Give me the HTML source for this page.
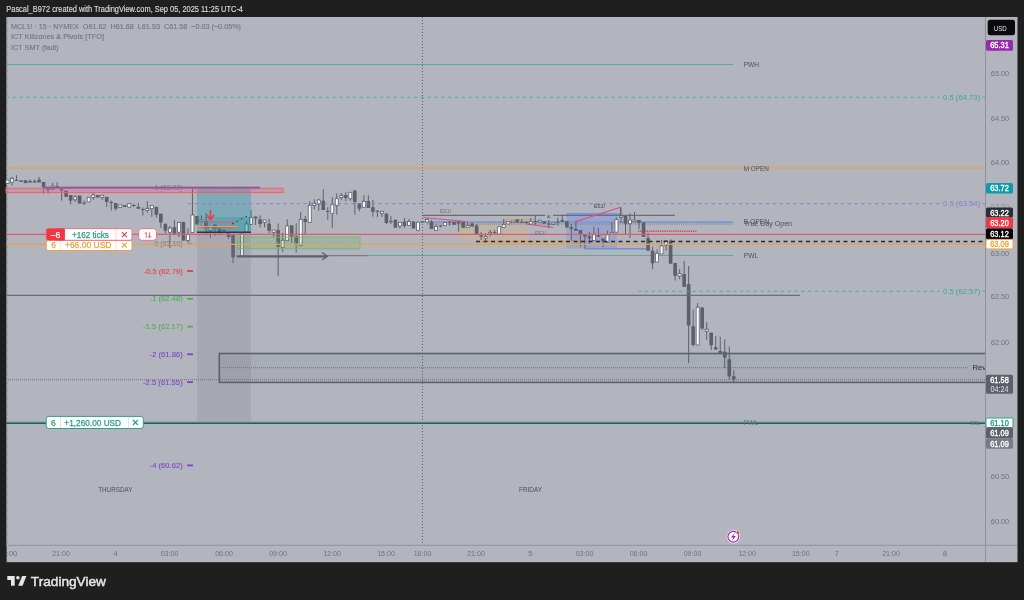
<!DOCTYPE html>
<html><head><meta charset="utf-8"><style>
html,body{margin:0;padding:0;background:#1f1f1f;width:1024px;height:600px;overflow:hidden}
svg{display:block;will-change:transform}
text{font-family:"Liberation Sans", sans-serif}
</style></head><body>
<svg width="1024" height="600" viewBox="0 0 1024 600">
<rect x="0" y="0" width="1024" height="600" fill="#1f1f1f"/>
<text x="6.3" y="12.1" font-size="8.3" fill="#dcdcdc" text-anchor="start" font-weight="normal" textLength="236.7" lengthAdjust="spacingAndGlyphs" stroke="#dcdcdc" stroke-width="0.15">Pascal_B972 created with TradingView.com, Sep 05, 2025 11:25 UTC-4</text>
<rect x="6.6" y="17" width="1010.9" height="545.2" fill="#b2b5be"/>
<line x1="7.4" y1="17" x2="7.4" y2="545" stroke="#c4c6d0" stroke-width="1.4"/><line x1="7.4" y1="17" x2="7.4" y2="545" stroke="#8d9099" stroke-width="1.4" stroke-dasharray="1 1"/>
<line x1="6" y1="64.5" x2="733" y2="64.5" stroke="#5aa89e" stroke-width="1.2"/>
<line x1="368" y1="255.5" x2="733" y2="255.5" stroke="#5aa89e" stroke-width="1.2"/>
<line x1="327" y1="255.7" x2="368" y2="255.7" stroke="#7b7e88" stroke-width="1.2"/>
<rect x="458.2" y="219.3" width="68.6" height="21.2" fill="rgba(230,180,90,0.22)"/>
<rect x="566.3" y="213.3" width="50.7" height="35.3" fill="rgba(60,110,240,0.2)"/>
<line x1="422.5" y1="215.4" x2="545" y2="215.4" stroke="#6b6e78" stroke-width="1.2"/>
<line x1="553" y1="215.4" x2="675" y2="215.4" stroke="#6b6e78" stroke-width="1.2"/>
<line x1="427" y1="222" x2="733" y2="222" stroke="#7f9bdc" stroke-width="2"/>
<line x1="427" y1="223.9" x2="733" y2="223.9" stroke="#858892" stroke-width="1.5" stroke-dasharray="1 1.1"/>
<line x1="476" y1="241.5" x2="583" y2="241.5" stroke="#e8a04a" stroke-width="1.4"/>
<line x1="638" y1="231.3" x2="697" y2="231.3" stroke="#d0a0ac" stroke-width="1.6"/>
<line x1="638" y1="231.3" x2="697" y2="231.3" stroke="#c84a5a" stroke-width="1.6" stroke-dasharray="1.2 1"/>
<line x1="585" y1="248.7" x2="646" y2="248.7" stroke="#6d8fe0" stroke-width="1.6"/>
<line x1="566" y1="214.1" x2="620" y2="214.1" stroke="#6d8fe0" stroke-width="1.6"/>
<line x1="503" y1="219.6" x2="535" y2="219.6" stroke="#e8a04a" stroke-width="1.2"/>
<line x1="422.5" y1="17" x2="422.5" y2="545" stroke="#5d606b" stroke-width="1" stroke-dasharray="1 2"/>
<line x1="423" y1="217.5" x2="466" y2="221.5" stroke="#e0507a" stroke-width="1.2"/>
<line x1="526" y1="224" x2="553" y2="227.5" stroke="#e0507a" stroke-width="1.2"/>
<line x1="575.7" y1="221.6" x2="620.5" y2="207.3" stroke="#e0507a" stroke-width="1.2"/>
<line x1="620.5" y1="207.3" x2="620.5" y2="217" stroke="#6b6e78" stroke-width="1"/>
<text x="182.7" y="190.29999999999998" font-size="8" fill="#7c7f88" text-anchor="end" font-weight="normal" textLength="28.2" lengthAdjust="spacingAndGlyphs" stroke="#7c7f88" stroke-width="0.08">1 (63.72)</text>
<text x="182.7" y="245.79999999999998" font-size="8" fill="#7c7f88" text-anchor="end" font-weight="normal" textLength="28.2" lengthAdjust="spacingAndGlyphs" stroke="#7c7f88" stroke-width="0.08">0 (63.10)</text>
<text x="182.7" y="273.6" font-size="8" fill="#f23645" text-anchor="end" font-weight="normal" textLength="39" lengthAdjust="spacingAndGlyphs" stroke="#f23645" stroke-width="0.08">-0.5 (62.79)</text>
<line x1="187.2" y1="271" x2="193" y2="271" stroke="#f23645" stroke-width="1.8"/>
<text x="182.7" y="301.40000000000003" font-size="8" fill="#4caf50" text-anchor="end" font-weight="normal" textLength="33" lengthAdjust="spacingAndGlyphs" stroke="#4caf50" stroke-width="0.08">-1 (62.48)</text>
<line x1="187.2" y1="298.8" x2="193" y2="298.8" stroke="#4caf50" stroke-width="1.8"/>
<text x="182.7" y="329.20000000000005" font-size="8" fill="#4caf50" text-anchor="end" font-weight="normal" textLength="39.7" lengthAdjust="spacingAndGlyphs" stroke="#4caf50" stroke-width="0.08">-1.5 (62.17)</text>
<line x1="187.2" y1="326.6" x2="193" y2="326.6" stroke="#4caf50" stroke-width="1.8"/>
<text x="182.7" y="356.90000000000003" font-size="8" fill="#7e40c8" text-anchor="end" font-weight="normal" textLength="33" lengthAdjust="spacingAndGlyphs" stroke="#7e40c8" stroke-width="0.08">-2 (61.86)</text>
<line x1="187.2" y1="354.3" x2="193" y2="354.3" stroke="#7e40c8" stroke-width="1.8"/>
<text x="182.7" y="384.70000000000005" font-size="8" fill="#7e40c8" text-anchor="end" font-weight="normal" textLength="39.7" lengthAdjust="spacingAndGlyphs" stroke="#7e40c8" stroke-width="0.08">-2.5 (61.55)</text>
<line x1="187.2" y1="382.1" x2="193" y2="382.1" stroke="#7e40c8" stroke-width="1.8"/>
<text x="182.7" y="468.0" font-size="8" fill="#7e40c8" text-anchor="end" font-weight="normal" textLength="33" lengthAdjust="spacingAndGlyphs" stroke="#7e40c8" stroke-width="0.08">-4 (60.62)</text>
<line x1="187.2" y1="465.4" x2="193" y2="465.4" stroke="#7e40c8" stroke-width="1.8"/>
<line x1="188" y1="243.2" x2="192" y2="243.2" stroke="#7c7f88" stroke-width="1"/>
<line x1="7.49" y1="180.0" x2="7.49" y2="184.0" stroke="#5d606b" stroke-width="1"/>
<rect x="5.99" y="180.0" width="3.0" height="3.50" fill="#ffffff" stroke="#5d606b" stroke-width="0.8"/>
<line x1="12.00" y1="177.0" x2="12.00" y2="185.6" stroke="#5d606b" stroke-width="1"/>
<rect x="10.50" y="178.5" width="3.0" height="3.75" fill="#ffffff" stroke="#5d606b" stroke-width="0.8"/>
<line x1="16.51" y1="175.25" x2="16.51" y2="181.0" stroke="#5d606b" stroke-width="1"/>
<rect x="14.71" y="180.0" width="3.6" height="1.00" fill="#5d606b"/>
<line x1="21.02" y1="180.4" x2="21.02" y2="181.9" stroke="#5d606b" stroke-width="1"/>
<rect x="19.22" y="180.4" width="3.6" height="1.50" fill="#5d606b"/>
<line x1="25.53" y1="180.25" x2="25.53" y2="183.1" stroke="#5d606b" stroke-width="1"/>
<rect x="23.73" y="180.25" width="3.6" height="2.85" fill="#5d606b"/>
<line x1="30.04" y1="179.5" x2="30.04" y2="182.5" stroke="#5d606b" stroke-width="1"/>
<rect x="28.24" y="181.0" width="3.6" height="1.50" fill="#5d606b"/>
<line x1="34.55" y1="179.5" x2="34.55" y2="182.5" stroke="#5d606b" stroke-width="1"/>
<rect x="32.75" y="181.0" width="3.6" height="1.50" fill="#5d606b"/>
<line x1="39.06" y1="177.0" x2="39.06" y2="182.5" stroke="#5d606b" stroke-width="1"/>
<rect x="37.27" y="179.6" width="3.6" height="2.90" fill="#5d606b"/>
<line x1="43.58" y1="181.9" x2="43.58" y2="193.75" stroke="#5d606b" stroke-width="1"/>
<rect x="41.78" y="181.9" width="3.6" height="5.00" fill="#5d606b"/>
<line x1="48.09" y1="187.75" x2="48.09" y2="193.75" stroke="#5d606b" stroke-width="1"/>
<rect x="46.29" y="187.75" width="3.6" height="2.00" fill="#5d606b"/>
<line x1="52.60" y1="183.0" x2="52.60" y2="190.0" stroke="#5d606b" stroke-width="1"/>
<rect x="51.10" y="186.0" width="3.0" height="3.00" fill="#ffffff" stroke="#5d606b" stroke-width="0.8"/>
<line x1="57.11" y1="182.25" x2="57.11" y2="188.0" stroke="#5d606b" stroke-width="1"/>
<rect x="55.31" y="186.25" width="3.6" height="1.75" fill="#5d606b"/>
<line x1="61.62" y1="189.0" x2="61.62" y2="200.6" stroke="#5d606b" stroke-width="1"/>
<rect x="59.82" y="189.0" width="3.6" height="1.60" fill="#5d606b"/>
<line x1="66.13" y1="190.6" x2="66.13" y2="196.9" stroke="#5d606b" stroke-width="1"/>
<rect x="64.33" y="190.6" width="3.6" height="6.30" fill="#5d606b"/>
<line x1="70.64" y1="195.0" x2="70.64" y2="204.4" stroke="#5d606b" stroke-width="1"/>
<rect x="68.84" y="195.0" width="3.6" height="5.60" fill="#5d606b"/>
<line x1="75.15" y1="195.0" x2="75.15" y2="202.0" stroke="#5d606b" stroke-width="1"/>
<rect x="73.65" y="196.9" width="3.0" height="2.85" fill="#ffffff" stroke="#5d606b" stroke-width="0.8"/>
<line x1="79.66" y1="195.6" x2="79.66" y2="203.5" stroke="#5d606b" stroke-width="1"/>
<rect x="77.86" y="195.6" width="3.6" height="7.90" fill="#5d606b"/>
<line x1="84.18" y1="200.6" x2="84.18" y2="205.0" stroke="#5d606b" stroke-width="1"/>
<rect x="82.38" y="202.6" width="3.6" height="1.00" fill="#5d606b"/>
<line x1="88.69" y1="197.25" x2="88.69" y2="201.9" stroke="#5d606b" stroke-width="1"/>
<rect x="87.19" y="197.25" width="3.0" height="4.65" fill="#ffffff" stroke="#5d606b" stroke-width="0.8"/>
<line x1="93.20" y1="193.0" x2="93.20" y2="199.75" stroke="#5d606b" stroke-width="1"/>
<rect x="91.70" y="195.0" width="3.0" height="2.50" fill="#ffffff" stroke="#5d606b" stroke-width="0.8"/>
<line x1="97.71" y1="195.0" x2="97.71" y2="197.5" stroke="#5d606b" stroke-width="1"/>
<rect x="95.91" y="195.0" width="3.6" height="2.50" fill="#5d606b"/>
<line x1="102.22" y1="195.25" x2="102.22" y2="200.0" stroke="#5d606b" stroke-width="1"/>
<rect x="100.72" y="195.25" width="3.0" height="2.25" fill="#ffffff" stroke="#5d606b" stroke-width="0.8"/>
<line x1="106.73" y1="196.9" x2="106.73" y2="206.9" stroke="#5d606b" stroke-width="1"/>
<rect x="104.93" y="196.9" width="3.6" height="5.00" fill="#5d606b"/>
<line x1="111.24" y1="200.6" x2="111.24" y2="210.6" stroke="#5d606b" stroke-width="1"/>
<rect x="109.44" y="202.0" width="3.6" height="1.00" fill="#5d606b"/>
<line x1="115.75" y1="203.1" x2="115.75" y2="210.6" stroke="#5d606b" stroke-width="1"/>
<rect x="113.95" y="203.1" width="3.6" height="5.65" fill="#5d606b"/>
<line x1="120.26" y1="205.0" x2="120.26" y2="207.5" stroke="#5d606b" stroke-width="1"/>
<rect x="118.76" y="205.0" width="3.0" height="2.50" fill="#ffffff" stroke="#5d606b" stroke-width="0.8"/>
<line x1="124.77" y1="205.0" x2="124.77" y2="206.9" stroke="#5d606b" stroke-width="1"/>
<rect x="122.97" y="205.0" width="3.6" height="1.90" fill="#5d606b"/>
<line x1="129.28" y1="203.5" x2="129.28" y2="207.25" stroke="#5d606b" stroke-width="1"/>
<rect x="127.78" y="203.5" width="3.0" height="3.75" fill="#ffffff" stroke="#5d606b" stroke-width="0.8"/>
<line x1="133.80" y1="204.0" x2="133.80" y2="207.0" stroke="#5d606b" stroke-width="1"/>
<rect x="132.00" y="205.0" width="3.6" height="1.00" fill="#5d606b"/>
<line x1="138.31" y1="203.0" x2="138.31" y2="208.75" stroke="#5d606b" stroke-width="1"/>
<rect x="136.51" y="206.9" width="3.6" height="1.85" fill="#5d606b"/>
<line x1="142.82" y1="207.5" x2="142.82" y2="215.6" stroke="#5d606b" stroke-width="1"/>
<rect x="141.02" y="209.0" width="3.6" height="1.00" fill="#5d606b"/>
<line x1="147.33" y1="201.25" x2="147.33" y2="212.5" stroke="#5d606b" stroke-width="1"/>
<rect x="145.83" y="208.5" width="3.0" height="2.10" fill="#ffffff" stroke="#5d606b" stroke-width="0.8"/>
<line x1="151.84" y1="205.6" x2="151.84" y2="216.9" stroke="#5d606b" stroke-width="1"/>
<rect x="150.34" y="205.6" width="3.0" height="3.15" fill="#ffffff" stroke="#5d606b" stroke-width="0.8"/>
<line x1="156.35" y1="206.9" x2="156.35" y2="217.5" stroke="#5d606b" stroke-width="1"/>
<rect x="154.55" y="206.9" width="3.6" height="7.85" fill="#5d606b"/>
<line x1="160.86" y1="213.75" x2="160.86" y2="228.0" stroke="#5d606b" stroke-width="1"/>
<rect x="159.06" y="213.75" width="3.6" height="8.75" fill="#5d606b"/>
<line x1="165.37" y1="223.75" x2="165.37" y2="233.75" stroke="#5d606b" stroke-width="1"/>
<rect x="163.57" y="223.75" width="3.6" height="6.85" fill="#5d606b"/>
<line x1="169.88" y1="226.0" x2="169.88" y2="248.0" stroke="#5d606b" stroke-width="1"/>
<rect x="168.38" y="228.1" width="3.0" height="4.15" fill="#ffffff" stroke="#5d606b" stroke-width="0.8"/>
<line x1="174.39" y1="220.0" x2="174.39" y2="233.75" stroke="#5d606b" stroke-width="1"/>
<rect x="172.59" y="227.25" width="3.6" height="6.50" fill="#5d606b"/>
<line x1="178.91" y1="222.5" x2="178.91" y2="237.0" stroke="#5d606b" stroke-width="1"/>
<rect x="177.41" y="222.5" width="3.0" height="9.75" fill="#ffffff" stroke="#5d606b" stroke-width="0.8"/>
<line x1="183.42" y1="221.9" x2="183.42" y2="240.6" stroke="#5d606b" stroke-width="1"/>
<rect x="181.62" y="221.9" width="3.6" height="18.70" fill="#5d606b"/>
<line x1="187.93" y1="228.0" x2="187.93" y2="242.7" stroke="#5d606b" stroke-width="1"/>
<rect x="186.43" y="234.5" width="3.0" height="6.10" fill="#ffffff" stroke="#5d606b" stroke-width="0.8"/>
<line x1="192.44" y1="187.0" x2="192.44" y2="233.0" stroke="#5d606b" stroke-width="1"/>
<rect x="190.94" y="215.0" width="3.0" height="17.50" fill="#ffffff" stroke="#5d606b" stroke-width="0.8"/>
<line x1="196.95" y1="216.0" x2="196.95" y2="224.5" stroke="#5d606b" stroke-width="1"/>
<rect x="195.15" y="216.0" width="3.6" height="8.50" fill="#5d606b"/>
<line x1="201.46" y1="215.0" x2="201.46" y2="221.8" stroke="#5d606b" stroke-width="1"/>
<rect x="199.96" y="220.0" width="3.0" height="1.80" fill="#ffffff" stroke="#5d606b" stroke-width="0.8"/>
<line x1="205.97" y1="213.0" x2="205.97" y2="234.0" stroke="#5d606b" stroke-width="1"/>
<rect x="204.17" y="221.0" width="3.6" height="7.50" fill="#5d606b"/>
<line x1="210.48" y1="227.0" x2="210.48" y2="238.0" stroke="#5d606b" stroke-width="1"/>
<rect x="208.98" y="227.0" width="3.0" height="3.50" fill="#ffffff" stroke="#5d606b" stroke-width="0.8"/>
<line x1="214.99" y1="224.5" x2="214.99" y2="236.0" stroke="#5d606b" stroke-width="1"/>
<rect x="213.19" y="224.5" width="3.6" height="4.50" fill="#5d606b"/>
<line x1="219.50" y1="228.5" x2="219.50" y2="234.0" stroke="#5d606b" stroke-width="1"/>
<rect x="217.70" y="228.5" width="3.6" height="3.50" fill="#5d606b"/>
<line x1="224.02" y1="229.0" x2="224.02" y2="232.0" stroke="#5d606b" stroke-width="1"/>
<rect x="222.22" y="230.0" width="3.6" height="1.00" fill="#5d606b"/>
<line x1="228.53" y1="232.5" x2="228.53" y2="239.0" stroke="#5d606b" stroke-width="1"/>
<rect x="226.73" y="232.5" width="3.6" height="4.50" fill="#5d606b"/>
<line x1="233.04" y1="234.5" x2="233.04" y2="263.3" stroke="#5d606b" stroke-width="1"/>
<rect x="231.24" y="234.5" width="3.6" height="22.80" fill="#5d606b"/>
<line x1="242.06" y1="234.0" x2="242.06" y2="256.0" stroke="#5d606b" stroke-width="1"/>
<rect x="240.56" y="234.0" width="3.0" height="22.00" fill="#ffffff" stroke="#5d606b" stroke-width="0.8"/>
<line x1="246.57" y1="221.0" x2="246.57" y2="232.0" stroke="#5d606b" stroke-width="1"/>
<rect x="245.07" y="224.0" width="3.0" height="8.00" fill="#ffffff" stroke="#5d606b" stroke-width="0.8"/>
<line x1="251.08" y1="210.0" x2="251.08" y2="224.5" stroke="#5d606b" stroke-width="1"/>
<rect x="249.58" y="217.5" width="3.0" height="7.00" fill="#ffffff" stroke="#5d606b" stroke-width="0.8"/>
<line x1="255.59" y1="216.5" x2="255.59" y2="225.0" stroke="#5d606b" stroke-width="1"/>
<rect x="253.79" y="216.5" width="3.6" height="2.00" fill="#5d606b"/>
<line x1="260.10" y1="215.3" x2="260.10" y2="227.3" stroke="#5d606b" stroke-width="1"/>
<rect x="258.30" y="219.3" width="3.6" height="4.70" fill="#5d606b"/>
<line x1="264.62" y1="220.0" x2="264.62" y2="227.3" stroke="#5d606b" stroke-width="1"/>
<rect x="263.12" y="220.0" width="3.0" height="2.40" fill="#ffffff" stroke="#5d606b" stroke-width="0.8"/>
<line x1="269.13" y1="218.7" x2="269.13" y2="233.3" stroke="#5d606b" stroke-width="1"/>
<rect x="267.33" y="223.7" width="3.6" height="7.00" fill="#5d606b"/>
<line x1="273.64" y1="230.0" x2="273.64" y2="237.3" stroke="#5d606b" stroke-width="1"/>
<rect x="272.14" y="230.0" width="3.0" height="2.30" fill="#ffffff" stroke="#5d606b" stroke-width="0.8"/>
<line x1="278.15" y1="223.3" x2="278.15" y2="276.0" stroke="#5d606b" stroke-width="1"/>
<rect x="276.35" y="230.0" width="3.6" height="16.70" fill="#5d606b"/>
<line x1="282.66" y1="232.7" x2="282.66" y2="252.0" stroke="#5d606b" stroke-width="1"/>
<rect x="281.16" y="240.3" width="3.0" height="7.00" fill="#ffffff" stroke="#5d606b" stroke-width="0.8"/>
<line x1="287.17" y1="219.3" x2="287.17" y2="240.7" stroke="#5d606b" stroke-width="1"/>
<rect x="285.67" y="226.0" width="3.0" height="14.70" fill="#ffffff" stroke="#5d606b" stroke-width="0.8"/>
<line x1="291.68" y1="225.3" x2="291.68" y2="242.7" stroke="#5d606b" stroke-width="1"/>
<rect x="289.88" y="225.3" width="3.6" height="11.40" fill="#5d606b"/>
<line x1="296.19" y1="223.3" x2="296.19" y2="252.7" stroke="#5d606b" stroke-width="1"/>
<rect x="294.39" y="236.0" width="3.6" height="7.70" fill="#5d606b"/>
<line x1="300.70" y1="212.0" x2="300.70" y2="245.3" stroke="#5d606b" stroke-width="1"/>
<rect x="299.20" y="219.3" width="3.0" height="26.00" fill="#ffffff" stroke="#5d606b" stroke-width="0.8"/>
<line x1="305.21" y1="216.0" x2="305.21" y2="234.0" stroke="#5d606b" stroke-width="1"/>
<rect x="303.41" y="219.0" width="3.6" height="3.00" fill="#5d606b"/>
<line x1="309.73" y1="201.3" x2="309.73" y2="222.4" stroke="#5d606b" stroke-width="1"/>
<rect x="308.23" y="205.3" width="3.0" height="17.10" fill="#ffffff" stroke="#5d606b" stroke-width="0.8"/>
<line x1="314.24" y1="199.3" x2="314.24" y2="209.3" stroke="#5d606b" stroke-width="1"/>
<rect x="312.74" y="203.3" width="3.0" height="2.30" fill="#ffffff" stroke="#5d606b" stroke-width="0.8"/>
<line x1="318.75" y1="198.7" x2="318.75" y2="210.7" stroke="#5d606b" stroke-width="1"/>
<rect x="317.25" y="200.0" width="3.0" height="4.00" fill="#ffffff" stroke="#5d606b" stroke-width="0.8"/>
<line x1="323.26" y1="189.3" x2="323.26" y2="210.0" stroke="#5d606b" stroke-width="1"/>
<rect x="321.46" y="200.7" width="3.6" height="9.30" fill="#5d606b"/>
<line x1="327.77" y1="207.3" x2="327.77" y2="219.7" stroke="#5d606b" stroke-width="1"/>
<rect x="325.97" y="210.8" width="3.6" height="1.00" fill="#5d606b"/>
<line x1="332.28" y1="197.3" x2="332.28" y2="227.7" stroke="#5d606b" stroke-width="1"/>
<rect x="330.78" y="204.7" width="3.0" height="8.60" fill="#ffffff" stroke="#5d606b" stroke-width="0.8"/>
<line x1="336.79" y1="193.3" x2="336.79" y2="214.7" stroke="#5d606b" stroke-width="1"/>
<rect x="335.29" y="198.7" width="3.0" height="6.60" fill="#ffffff" stroke="#5d606b" stroke-width="0.8"/>
<line x1="341.30" y1="193.0" x2="341.30" y2="200.0" stroke="#5d606b" stroke-width="1"/>
<rect x="339.80" y="195.3" width="3.0" height="2.30" fill="#ffffff" stroke="#5d606b" stroke-width="0.8"/>
<line x1="345.81" y1="192.3" x2="345.81" y2="201.3" stroke="#5d606b" stroke-width="1"/>
<rect x="344.01" y="195.0" width="3.6" height="3.00" fill="#5d606b"/>
<line x1="350.32" y1="192.3" x2="350.32" y2="200.7" stroke="#5d606b" stroke-width="1"/>
<rect x="348.82" y="192.3" width="3.0" height="6.40" fill="#ffffff" stroke="#5d606b" stroke-width="0.8"/>
<line x1="354.83" y1="190.4" x2="354.83" y2="214.7" stroke="#5d606b" stroke-width="1"/>
<rect x="353.03" y="190.4" width="3.6" height="11.60" fill="#5d606b"/>
<line x1="359.35" y1="203.0" x2="359.35" y2="211.3" stroke="#5d606b" stroke-width="1"/>
<rect x="357.55" y="203.0" width="3.6" height="5.70" fill="#5d606b"/>
<line x1="363.86" y1="195.3" x2="363.86" y2="207.3" stroke="#5d606b" stroke-width="1"/>
<rect x="362.36" y="201.3" width="3.0" height="6.00" fill="#ffffff" stroke="#5d606b" stroke-width="0.8"/>
<line x1="368.37" y1="195.3" x2="368.37" y2="208.0" stroke="#5d606b" stroke-width="1"/>
<rect x="366.57" y="201.0" width="3.6" height="7.00" fill="#5d606b"/>
<line x1="372.88" y1="200.0" x2="372.88" y2="216.7" stroke="#5d606b" stroke-width="1"/>
<rect x="371.08" y="207.3" width="3.6" height="4.40" fill="#5d606b"/>
<line x1="377.39" y1="210.0" x2="377.39" y2="217.3" stroke="#5d606b" stroke-width="1"/>
<rect x="375.59" y="210.8" width="3.6" height="1.00" fill="#5d606b"/>
<line x1="381.90" y1="211.3" x2="381.90" y2="217.0" stroke="#5d606b" stroke-width="1"/>
<rect x="380.40" y="211.3" width="3.0" height="2.00" fill="#ffffff" stroke="#5d606b" stroke-width="0.8"/>
<line x1="386.41" y1="213.6" x2="386.41" y2="224.0" stroke="#5d606b" stroke-width="1"/>
<rect x="384.61" y="213.6" width="3.6" height="9.40" fill="#5d606b"/>
<line x1="390.92" y1="216.0" x2="390.92" y2="224.0" stroke="#5d606b" stroke-width="1"/>
<rect x="389.12" y="221.0" width="3.6" height="1.00" fill="#5d606b"/>
<line x1="395.43" y1="219.7" x2="395.43" y2="227.7" stroke="#5d606b" stroke-width="1"/>
<rect x="393.63" y="219.7" width="3.6" height="8.00" fill="#5d606b"/>
<line x1="399.94" y1="222.4" x2="399.94" y2="228.7" stroke="#5d606b" stroke-width="1"/>
<rect x="398.44" y="222.4" width="3.0" height="3.60" fill="#ffffff" stroke="#5d606b" stroke-width="0.8"/>
<line x1="404.46" y1="218.0" x2="404.46" y2="228.0" stroke="#5d606b" stroke-width="1"/>
<rect x="402.66" y="221.6" width="3.6" height="4.40" fill="#5d606b"/>
<line x1="408.97" y1="219.0" x2="408.97" y2="225.5" stroke="#5d606b" stroke-width="1"/>
<rect x="407.47" y="221.5" width="3.0" height="4.00" fill="#ffffff" stroke="#5d606b" stroke-width="0.8"/>
<line x1="413.48" y1="221.5" x2="413.48" y2="228.5" stroke="#5d606b" stroke-width="1"/>
<rect x="411.68" y="221.5" width="3.6" height="7.00" fill="#5d606b"/>
<line x1="417.99" y1="222.2" x2="417.99" y2="230.5" stroke="#5d606b" stroke-width="1"/>
<rect x="416.49" y="222.2" width="3.0" height="8.30" fill="#ffffff" stroke="#5d606b" stroke-width="0.8"/>
<line x1="422.50" y1="221.0" x2="422.50" y2="223.0" stroke="#5d606b" stroke-width="1"/>
<rect x="421.00" y="221.5" width="3.0" height="1.00" fill="#ffffff" stroke="#5d606b" stroke-width="0.8"/>
<line x1="427.01" y1="218.0" x2="427.01" y2="222.0" stroke="#5d606b" stroke-width="1"/>
<rect x="425.51" y="219.5" width="3.0" height="2.50" fill="#ffffff" stroke="#5d606b" stroke-width="0.8"/>
<line x1="431.52" y1="220.0" x2="431.52" y2="229.0" stroke="#5d606b" stroke-width="1"/>
<rect x="429.72" y="221.8" width="3.6" height="7.20" fill="#5d606b"/>
<line x1="436.03" y1="224.5" x2="436.03" y2="230.5" stroke="#5d606b" stroke-width="1"/>
<rect x="434.53" y="226.5" width="3.0" height="4.00" fill="#ffffff" stroke="#5d606b" stroke-width="0.8"/>
<line x1="440.54" y1="225.5" x2="440.54" y2="227.5" stroke="#5d606b" stroke-width="1"/>
<rect x="438.74" y="225.5" width="3.6" height="1.00" fill="#5d606b"/>
<line x1="445.06" y1="222.5" x2="445.06" y2="225.5" stroke="#5d606b" stroke-width="1"/>
<rect x="443.56" y="222.5" width="3.0" height="3.00" fill="#ffffff" stroke="#5d606b" stroke-width="0.8"/>
<line x1="449.57" y1="221.5" x2="449.57" y2="225.5" stroke="#5d606b" stroke-width="1"/>
<rect x="447.77" y="221.5" width="3.6" height="1.00" fill="#5d606b"/>
<line x1="454.08" y1="221.8" x2="454.08" y2="224.7" stroke="#5d606b" stroke-width="1"/>
<rect x="452.28" y="221.8" width="3.6" height="2.90" fill="#5d606b"/>
<line x1="458.59" y1="221.5" x2="458.59" y2="231.5" stroke="#5d606b" stroke-width="1"/>
<rect x="456.79" y="221.5" width="3.6" height="2.00" fill="#5d606b"/>
<line x1="463.10" y1="222.0" x2="463.10" y2="227.8" stroke="#5d606b" stroke-width="1"/>
<rect x="461.30" y="222.0" width="3.6" height="5.80" fill="#5d606b"/>
<line x1="467.61" y1="222.0" x2="467.61" y2="227.5" stroke="#5d606b" stroke-width="1"/>
<rect x="466.11" y="225.5" width="3.0" height="2.00" fill="#ffffff" stroke="#5d606b" stroke-width="0.8"/>
<line x1="472.12" y1="222.5" x2="472.12" y2="226.5" stroke="#5d606b" stroke-width="1"/>
<rect x="470.32" y="223.5" width="3.6" height="3.00" fill="#5d606b"/>
<line x1="476.63" y1="224.0" x2="476.63" y2="234.0" stroke="#5d606b" stroke-width="1"/>
<rect x="474.83" y="225.5" width="3.6" height="8.50" fill="#5d606b"/>
<line x1="481.14" y1="232.0" x2="481.14" y2="240.0" stroke="#5d606b" stroke-width="1"/>
<rect x="479.34" y="235.3" width="3.6" height="1.40" fill="#5d606b"/>
<line x1="485.65" y1="233.0" x2="485.65" y2="241.0" stroke="#5d606b" stroke-width="1"/>
<rect x="484.15" y="236.5" width="3.0" height="1.80" fill="#ffffff" stroke="#5d606b" stroke-width="0.8"/>
<line x1="490.17" y1="230.0" x2="490.17" y2="236.5" stroke="#5d606b" stroke-width="1"/>
<rect x="488.67" y="232.3" width="3.0" height="1.50" fill="#ffffff" stroke="#5d606b" stroke-width="0.8"/>
<line x1="494.68" y1="230.0" x2="494.68" y2="235.0" stroke="#5d606b" stroke-width="1"/>
<rect x="492.88" y="232.0" width="3.6" height="1.00" fill="#5d606b"/>
<line x1="499.19" y1="226.6" x2="499.19" y2="234.0" stroke="#5d606b" stroke-width="1"/>
<rect x="497.69" y="226.6" width="3.0" height="7.40" fill="#ffffff" stroke="#5d606b" stroke-width="0.8"/>
<line x1="503.70" y1="219.0" x2="503.70" y2="227.5" stroke="#5d606b" stroke-width="1"/>
<rect x="502.20" y="224.6" width="3.0" height="2.90" fill="#ffffff" stroke="#5d606b" stroke-width="0.8"/>
<line x1="508.21" y1="221.6" x2="508.21" y2="224.0" stroke="#5d606b" stroke-width="1"/>
<rect x="506.71" y="221.6" width="3.0" height="2.40" fill="#ffffff" stroke="#5d606b" stroke-width="0.8"/>
<line x1="512.72" y1="221.0" x2="512.72" y2="222.5" stroke="#5d606b" stroke-width="1"/>
<rect x="511.22" y="221.0" width="3.0" height="1.50" fill="#ffffff" stroke="#5d606b" stroke-width="0.8"/>
<line x1="517.23" y1="219.3" x2="517.23" y2="222.5" stroke="#5d606b" stroke-width="1"/>
<rect x="515.43" y="219.3" width="3.6" height="3.20" fill="#5d606b"/>
<line x1="521.74" y1="219.0" x2="521.74" y2="223.0" stroke="#5d606b" stroke-width="1"/>
<rect x="519.94" y="222.0" width="3.6" height="1.00" fill="#5d606b"/>
<line x1="526.25" y1="221.0" x2="526.25" y2="224.0" stroke="#5d606b" stroke-width="1"/>
<rect x="524.45" y="222.0" width="3.6" height="1.00" fill="#5d606b"/>
<line x1="530.76" y1="218.0" x2="530.76" y2="224.0" stroke="#5d606b" stroke-width="1"/>
<rect x="529.26" y="221.6" width="3.0" height="2.40" fill="#ffffff" stroke="#5d606b" stroke-width="0.8"/>
<line x1="535.27" y1="215.8" x2="535.27" y2="225.0" stroke="#5d606b" stroke-width="1"/>
<rect x="533.48" y="221.1" width="3.6" height="1.00" fill="#5d606b"/>
<line x1="539.79" y1="220.2" x2="539.79" y2="222.0" stroke="#5d606b" stroke-width="1"/>
<rect x="538.29" y="220.2" width="3.0" height="1.80" fill="#ffffff" stroke="#5d606b" stroke-width="0.8"/>
<line x1="544.30" y1="221.3" x2="544.30" y2="223.7" stroke="#5d606b" stroke-width="1"/>
<rect x="542.50" y="221.3" width="3.6" height="2.40" fill="#5d606b"/>
<line x1="548.81" y1="220.0" x2="548.81" y2="228.0" stroke="#5d606b" stroke-width="1"/>
<rect x="547.01" y="223.5" width="3.6" height="1.00" fill="#5d606b"/>
<line x1="553.32" y1="223.0" x2="553.32" y2="224.6" stroke="#5d606b" stroke-width="1"/>
<rect x="551.82" y="223.0" width="3.0" height="1.60" fill="#ffffff" stroke="#5d606b" stroke-width="0.8"/>
<line x1="557.83" y1="217.4" x2="557.83" y2="225.7" stroke="#5d606b" stroke-width="1"/>
<rect x="556.03" y="221.5" width="3.6" height="1.00" fill="#5d606b"/>
<line x1="562.34" y1="215.0" x2="562.34" y2="221.8" stroke="#5d606b" stroke-width="1"/>
<rect x="560.54" y="220.0" width="3.6" height="1.80" fill="#5d606b"/>
<line x1="566.85" y1="221.1" x2="566.85" y2="227.5" stroke="#5d606b" stroke-width="1"/>
<rect x="565.05" y="221.1" width="3.6" height="6.40" fill="#5d606b"/>
<line x1="571.36" y1="223.9" x2="571.36" y2="240.8" stroke="#5d606b" stroke-width="1"/>
<rect x="569.56" y="227.3" width="3.6" height="1.70" fill="#5d606b"/>
<line x1="575.87" y1="221.6" x2="575.87" y2="230.7" stroke="#5d606b" stroke-width="1"/>
<rect x="574.07" y="228.9" width="3.6" height="1.80" fill="#5d606b"/>
<line x1="580.38" y1="230.0" x2="580.38" y2="246.8" stroke="#5d606b" stroke-width="1"/>
<rect x="578.59" y="230.0" width="3.6" height="4.40" fill="#5d606b"/>
<line x1="584.90" y1="234.9" x2="584.90" y2="248.6" stroke="#5d606b" stroke-width="1"/>
<rect x="583.10" y="234.9" width="3.6" height="1.60" fill="#5d606b"/>
<line x1="589.41" y1="232.0" x2="589.41" y2="244.0" stroke="#5d606b" stroke-width="1"/>
<rect x="587.61" y="236.2" width="3.6" height="2.30" fill="#5d606b"/>
<line x1="593.92" y1="226.6" x2="593.92" y2="240.4" stroke="#5d606b" stroke-width="1"/>
<rect x="592.42" y="234.7" width="3.0" height="5.70" fill="#ffffff" stroke="#5d606b" stroke-width="0.8"/>
<line x1="598.43" y1="227.5" x2="598.43" y2="236.7" stroke="#5d606b" stroke-width="1"/>
<rect x="596.63" y="235.3" width="3.6" height="1.40" fill="#5d606b"/>
<line x1="602.94" y1="238.5" x2="602.94" y2="247.2" stroke="#5d606b" stroke-width="1"/>
<rect x="601.14" y="238.5" width="3.6" height="2.80" fill="#5d606b"/>
<line x1="607.45" y1="230.7" x2="607.45" y2="242.2" stroke="#5d606b" stroke-width="1"/>
<rect x="605.95" y="234.9" width="3.0" height="7.30" fill="#ffffff" stroke="#5d606b" stroke-width="0.8"/>
<line x1="611.96" y1="222.0" x2="611.96" y2="234.1" stroke="#5d606b" stroke-width="1"/>
<rect x="610.46" y="232.6" width="3.0" height="1.50" fill="#ffffff" stroke="#5d606b" stroke-width="0.8"/>
<line x1="616.47" y1="217.4" x2="616.47" y2="232.1" stroke="#5d606b" stroke-width="1"/>
<rect x="614.97" y="219.3" width="3.0" height="12.80" fill="#ffffff" stroke="#5d606b" stroke-width="0.8"/>
<line x1="620.98" y1="207.3" x2="620.98" y2="223.0" stroke="#5d606b" stroke-width="1"/>
<rect x="619.48" y="216.0" width="3.0" height="1.40" fill="#ffffff" stroke="#5d606b" stroke-width="0.8"/>
<line x1="625.50" y1="216.0" x2="625.50" y2="234.0" stroke="#5d606b" stroke-width="1"/>
<rect x="623.70" y="216.0" width="3.6" height="7.70" fill="#5d606b"/>
<line x1="630.01" y1="213.3" x2="630.01" y2="238.0" stroke="#5d606b" stroke-width="1"/>
<rect x="628.51" y="220.0" width="3.0" height="3.70" fill="#ffffff" stroke="#5d606b" stroke-width="0.8"/>
<line x1="634.52" y1="212.0" x2="634.52" y2="221.6" stroke="#5d606b" stroke-width="1"/>
<rect x="633.02" y="220.0" width="3.0" height="1.60" fill="#ffffff" stroke="#5d606b" stroke-width="0.8"/>
<line x1="639.03" y1="220.0" x2="639.03" y2="229.3" stroke="#5d606b" stroke-width="1"/>
<rect x="637.23" y="220.0" width="3.6" height="2.70" fill="#5d606b"/>
<line x1="643.54" y1="222.4" x2="643.54" y2="237.0" stroke="#5d606b" stroke-width="1"/>
<rect x="641.74" y="222.4" width="3.6" height="14.60" fill="#5d606b"/>
<line x1="648.05" y1="232.7" x2="648.05" y2="250.7" stroke="#5d606b" stroke-width="1"/>
<rect x="646.25" y="238.0" width="3.6" height="12.70" fill="#5d606b"/>
<line x1="652.56" y1="246.7" x2="652.56" y2="269.3" stroke="#5d606b" stroke-width="1"/>
<rect x="650.76" y="250.7" width="3.6" height="12.60" fill="#5d606b"/>
<line x1="657.07" y1="249.3" x2="657.07" y2="262.0" stroke="#5d606b" stroke-width="1"/>
<rect x="655.57" y="253.3" width="3.0" height="8.70" fill="#ffffff" stroke="#5d606b" stroke-width="0.8"/>
<line x1="661.58" y1="240.0" x2="661.58" y2="254.0" stroke="#5d606b" stroke-width="1"/>
<rect x="660.08" y="246.0" width="3.0" height="8.00" fill="#ffffff" stroke="#5d606b" stroke-width="0.8"/>
<line x1="666.09" y1="240.7" x2="666.09" y2="250.7" stroke="#5d606b" stroke-width="1"/>
<rect x="664.59" y="240.7" width="3.0" height="4.30" fill="#ffffff" stroke="#5d606b" stroke-width="0.8"/>
<line x1="670.61" y1="239.3" x2="670.61" y2="263.7" stroke="#5d606b" stroke-width="1"/>
<rect x="668.81" y="240.7" width="3.6" height="23.00" fill="#5d606b"/>
<line x1="675.12" y1="263.0" x2="675.12" y2="280.5" stroke="#5d606b" stroke-width="1"/>
<rect x="673.32" y="263.0" width="3.6" height="12.80" fill="#5d606b"/>
<line x1="679.63" y1="269.0" x2="679.63" y2="279.5" stroke="#5d606b" stroke-width="1"/>
<rect x="678.13" y="273.5" width="3.0" height="2.50" fill="#ffffff" stroke="#5d606b" stroke-width="0.8"/>
<line x1="684.14" y1="261.0" x2="684.14" y2="286.8" stroke="#5d606b" stroke-width="1"/>
<rect x="682.34" y="274.0" width="3.6" height="12.80" fill="#5d606b"/>
<line x1="688.65" y1="266.0" x2="688.65" y2="363.0" stroke="#5d606b" stroke-width="1"/>
<rect x="686.85" y="284.0" width="3.6" height="41.50" fill="#5d606b"/>
<line x1="693.16" y1="309.7" x2="693.16" y2="346.5" stroke="#5d606b" stroke-width="1"/>
<rect x="691.36" y="326.2" width="3.6" height="18.80" fill="#5d606b"/>
<line x1="697.67" y1="303.0" x2="697.67" y2="345.0" stroke="#5d606b" stroke-width="1"/>
<rect x="696.17" y="307.2" width="3.0" height="37.80" fill="#ffffff" stroke="#5d606b" stroke-width="0.8"/>
<line x1="702.18" y1="307.5" x2="702.18" y2="330.0" stroke="#5d606b" stroke-width="1"/>
<rect x="700.38" y="307.5" width="3.6" height="21.00" fill="#5d606b"/>
<line x1="706.69" y1="322.2" x2="706.69" y2="339.7" stroke="#5d606b" stroke-width="1"/>
<rect x="705.19" y="329.2" width="3.0" height="2.00" fill="#ffffff" stroke="#5d606b" stroke-width="0.8"/>
<line x1="711.20" y1="332.7" x2="711.20" y2="350.2" stroke="#5d606b" stroke-width="1"/>
<rect x="709.40" y="332.7" width="3.6" height="12.60" fill="#5d606b"/>
<line x1="715.72" y1="336.0" x2="715.72" y2="349.5" stroke="#5d606b" stroke-width="1"/>
<rect x="713.92" y="347.2" width="3.6" height="2.30" fill="#5d606b"/>
<line x1="720.23" y1="336.7" x2="720.23" y2="353.2" stroke="#5d606b" stroke-width="1"/>
<rect x="718.43" y="351.0" width="3.6" height="2.20" fill="#5d606b"/>
<line x1="724.74" y1="339.3" x2="724.74" y2="368.2" stroke="#5d606b" stroke-width="1"/>
<rect x="722.94" y="351.7" width="3.6" height="6.00" fill="#5d606b"/>
<line x1="729.25" y1="346.5" x2="729.25" y2="379.5" stroke="#5d606b" stroke-width="1"/>
<rect x="727.45" y="359.2" width="3.6" height="17.30" fill="#5d606b"/>
<line x1="733.76" y1="370.2" x2="733.76" y2="383.2" stroke="#5d606b" stroke-width="1"/>
<rect x="731.96" y="376.2" width="3.6" height="3.30" fill="#5d606b"/>
<rect x="197" y="232.5" width="54" height="189.5" fill="rgba(120,123,134,0.2)"/>
<rect x="197" y="187.5" width="54" height="45" fill="rgba(0,150,168,0.3)"/>
<rect x="206" y="217" width="45" height="15.5" fill="rgba(0,135,150,0.2)"/>
<rect x="237.3" y="237.1" width="122.7" height="11.7" fill="rgba(76,175,80,0.16)" stroke="#6cbd70" stroke-width="1"/>
<line x1="238" y1="242.4" x2="360" y2="242.4" stroke="#6cbd70" stroke-width="1" stroke-dasharray="1 2"/>
<rect x="219.3" y="353.5" width="790" height="28.9" fill="rgba(93,96,107,0.1)" stroke="#5d606b" stroke-width="1.6"/>
<line x1="221" y1="367.7" x2="968" y2="367.7" stroke="#6f727c" stroke-width="1" stroke-dasharray="1 1"/>
<rect x="6" y="188.2" width="277" height="4.4" fill="rgba(242,54,69,0.2)" stroke="#f0606d" stroke-width="1"/>
<line x1="6" y1="190.4" x2="283" y2="190.4" stroke="#e0909a" stroke-width="1" stroke-dasharray="1 1.5"/>
<line x1="6" y1="97.2" x2="940" y2="97.2" stroke="#5aa89e" stroke-width="1" stroke-dasharray="3.4 3.4"/>
<line x1="982.5" y1="97.2" x2="985" y2="97.2" stroke="#5aa89e" stroke-width="1"/>
<line x1="6" y1="168.2" x2="985" y2="168.2" stroke="#e8a04a" stroke-width="1.2"/>
<line x1="44.5" y1="187.75" x2="260" y2="187.75" stroke="#a862b0" stroke-width="2"/>
<line x1="44.5" y1="187.3" x2="260" y2="187.3" stroke="#5a4a8a" stroke-width="1" stroke-dasharray="1 1"/>
<line x1="188" y1="203.7" x2="940" y2="203.7" stroke="#9575cd" stroke-width="1" stroke-dasharray="3.4 3.4"/>
<line x1="982.5" y1="203.7" x2="985" y2="203.7" stroke="#9575cd" stroke-width="1"/>
<line x1="6" y1="234.4" x2="985" y2="234.4" stroke="#e9586a" stroke-width="1.2"/>
<line x1="476" y1="241.5" x2="985" y2="241.5" stroke="#2a2a2a" stroke-width="1.4" stroke-dasharray="4 3.5"/>
<line x1="6" y1="244.4" x2="985" y2="244.4" stroke="#e8a04a" stroke-width="1.4"/>
<line x1="236.7" y1="256.4" x2="327" y2="256.4" stroke="#5d606b" stroke-width="2.2"/>
<line x1="638" y1="291.3" x2="940" y2="291.3" stroke="#5aa89e" stroke-width="1" stroke-dasharray="3.4 3.4"/>
<line x1="982.5" y1="291.3" x2="985" y2="291.3" stroke="#5aa89e" stroke-width="1"/>
<line x1="6" y1="295.3" x2="800" y2="295.3" stroke="#6b6e78" stroke-width="1.2"/>
<line x1="6" y1="379.7" x2="985" y2="379.7" stroke="#6f727c" stroke-width="1" stroke-dasharray="1 1"/>
<line x1="6" y1="423.3" x2="985" y2="423.3" stroke="#4a4d56" stroke-width="1.4"/>
<line x1="6" y1="422.4" x2="985" y2="422.4" stroke="#2e9a8a" stroke-width="1.2"/>
<polyline points="322,252.5 327.5,256.3 322,260" fill="none" stroke="#5d606b" stroke-width="1.3"/>
<line x1="197" y1="232.3" x2="251" y2="232.3" stroke="#2a3a40" stroke-width="1.4"/>
<rect x="201.2" y="222.2" width="32.6" height="5.6" fill="none" stroke="#e9586a" stroke-width="1"/>
<line x1="196.5" y1="226.5" x2="237.8" y2="226.5" stroke="#e8a04a" stroke-width="1"/>
<path d="M210.5 210 V218" stroke="#f23645" stroke-width="1.6"/><path d="M207 215 L210.5 219.5 L214 215" fill="none" stroke="#f23645" stroke-width="1.6"/>
<line x1="232" y1="224" x2="249" y2="215" stroke="#303540" stroke-width="1" stroke-dasharray="2 3"/>
<text x="743.7" y="66.5" font-size="7.7" fill="#4d5059" text-anchor="start" font-weight="normal" textLength="15.4" lengthAdjust="spacingAndGlyphs" >PWH</text>
<text x="743.7" y="170.8" font-size="7.7" fill="#4d5059" text-anchor="start" font-weight="normal" textLength="25.3" lengthAdjust="spacingAndGlyphs" >M OPEN</text>
<text x="743.7" y="223.7" font-size="7.7" fill="#4d5059" text-anchor="start" font-weight="normal" textLength="25.3" lengthAdjust="spacingAndGlyphs" >B OPEN</text>
<text x="744" y="226" font-size="7.7" fill="#4d5059" text-anchor="start" font-weight="normal" textLength="48" lengthAdjust="spacingAndGlyphs" >True Day Open</text>
<text x="743.7" y="258.2" font-size="7.7" fill="#4d5059" text-anchor="start" font-weight="normal" textLength="14.5" lengthAdjust="spacingAndGlyphs" >PWL</text>
<text x="743.7" y="425.2" font-size="7.7" fill="#6b6e78" text-anchor="start" font-weight="normal" textLength="14.5" lengthAdjust="spacingAndGlyphs" >PWL</text>
<text x="980.2" y="99.8" font-size="7.7" fill="#3aa890" text-anchor="end" font-weight="normal" textLength="37.2" lengthAdjust="spacingAndGlyphs" >0.5 (64.73)</text>
<text x="980.2" y="206.3" font-size="7.7" fill="#9575cd" text-anchor="end" font-weight="normal" textLength="37.2" lengthAdjust="spacingAndGlyphs" >0.5 (63.54)</text>
<text x="980.2" y="293.9" font-size="7.7" fill="#3aa890" text-anchor="end" font-weight="normal" textLength="37.2" lengthAdjust="spacingAndGlyphs" >0.5 (62.57)</text>
<text x="972.5" y="370.3" font-size="7.7" fill="#2a2d35" text-anchor="start" font-weight="normal" >Rev</text>
<text x="970" y="424.5" font-size="5.5" fill="#6b6e78" text-anchor="start" font-weight="normal" >SSL</text>
<text x="440" y="213" font-size="5" fill="#6b6e78" text-anchor="start" font-weight="normal" >ES1!</text>
<text x="535" y="234.5" font-size="5" fill="#6b6e78" text-anchor="start" font-weight="normal" >ES1!</text>
<text x="594" y="208" font-size="5" fill="#3a3d45" text-anchor="start" font-weight="normal" >ES1!</text>
<text x="548.5" y="218.5" font-size="8" fill="#4a4d56" text-anchor="middle" font-weight="normal" >×</text>
<text x="98.25" y="491.6" font-size="7.7" fill="#4d5059" text-anchor="start" font-weight="normal" textLength="34.25" lengthAdjust="spacingAndGlyphs" >THURSDAY</text>
<text x="519" y="491.6" font-size="7.7" fill="#4d5059" text-anchor="start" font-weight="normal" textLength="23" lengthAdjust="spacingAndGlyphs" >FRIDAY</text>
<rect x="46.3" y="240.3" width="85.7" height="10.2" rx="2" fill="#ffffff" stroke="#f0a040" stroke-width="1"/>
<rect x="46.3" y="228.6" width="85.7" height="11.7" rx="2" fill="#ffffff" stroke="#f07080" stroke-width="1"/>
<rect x="46.3" y="228.6" width="18.4" height="11.7" rx="2" fill="#f23645"/>
<rect x="56" y="228.6" width="8.7" height="11.7" fill="#f23645"/>
<line x1="116.1" y1="229" x2="116.1" y2="240" stroke="#f7d0d5" stroke-width="1"/>
<line x1="60.3" y1="241" x2="60.3" y2="250" stroke="#fbe3c0" stroke-width="1"/>
<line x1="116.1" y1="241" x2="116.1" y2="250" stroke="#fbe3c0" stroke-width="1"/>
<text x="55.5" y="237.6" font-size="8.5" fill="#ffffff" text-anchor="middle" font-weight="normal" stroke="#ffffff" stroke-width="0.25">−6</text>
<text x="90.4" y="237.6" font-size="8.5" fill="#22a08a" text-anchor="middle" font-weight="normal" textLength="37" lengthAdjust="spacingAndGlyphs" stroke="#22a08a" stroke-width="0.25">+162 ticks</text>
<path d="M121.9 232.1 L126.9 237.1 M126.9 232.1 L121.9 237.1" stroke="#f23645" stroke-width="1.1"/>
<text x="53.5" y="248.4" font-size="8.5" fill="#f0a030" text-anchor="middle" font-weight="normal" stroke="#f0a030" stroke-width="0.25">6</text>
<text x="88.2" y="248.4" font-size="8.5" fill="#f0a030" text-anchor="middle" font-weight="normal" stroke="#f0a030" stroke-width="0.25">+66.00 USD</text>
<path d="M121.9 242.6 L126.9 247.6 M126.9 242.6 L121.9 247.6" stroke="#f0a030" stroke-width="1.1"/>
<rect x="138.7" y="228.6" width="17.8" height="11.7" rx="3" fill="#ffffff" stroke="#f07080" stroke-width="1"/>
<path d="M146.2 237.8 V232.3 L144.9 233.6 M149.6 232.3 V237.8 M148 236.2 L149.6 237.8 L151.2 236.2" fill="none" stroke="#f04858" stroke-width="0.9"/>
<rect x="46.2" y="416.4" width="97.1" height="12.1" rx="2.5" fill="#ffffff" stroke="#2ea08c" stroke-width="1"/>
<line x1="60.5" y1="417" x2="60.5" y2="428" stroke="#cfe9e4" stroke-width="1"/>
<line x1="128.4" y1="417" x2="128.4" y2="428" stroke="#cfe9e4" stroke-width="1"/>
<text x="53.3" y="425.6" font-size="8.5" fill="#2a9a88" text-anchor="middle" font-weight="normal" stroke="#2a9a88" stroke-width="0.25">6</text>
<text x="92.7" y="425.6" font-size="8.5" fill="#2a9a88" text-anchor="middle" font-weight="normal" textLength="56.8" lengthAdjust="spacingAndGlyphs" stroke="#2a9a88" stroke-width="0.25">+1,260.00 USD</text>
<path d="M132.9 420 L137.9 425 M137.9 420 L132.9 425" stroke="#2a9a88" stroke-width="1.1"/>
<rect x="985.5" y="17" width="31.5" height="545" fill="#b2b5be"/>
<line x1="985.5" y1="17" x2="985.5" y2="562" stroke="#8f929b" stroke-width="1"/>
<line x1="6" y1="545.3" x2="1017" y2="545.3" stroke="#8f929b" stroke-width="1"/>
<text x="1000" y="75.8" font-size="8" fill="#6f727c" text-anchor="middle" font-weight="normal" textLength="18.4" lengthAdjust="spacingAndGlyphs" >65.00</text>
<text x="1000" y="120.8" font-size="8" fill="#6f727c" text-anchor="middle" font-weight="normal" textLength="18.4" lengthAdjust="spacingAndGlyphs" >64.50</text>
<text x="1000" y="165.4" font-size="8" fill="#6f727c" text-anchor="middle" font-weight="normal" textLength="18.4" lengthAdjust="spacingAndGlyphs" >64.00</text>
<text x="1000" y="299.2" font-size="8" fill="#6f727c" text-anchor="middle" font-weight="normal" textLength="18.4" lengthAdjust="spacingAndGlyphs" >62.50</text>
<text x="1000" y="344.6" font-size="8" fill="#6f727c" text-anchor="middle" font-weight="normal" textLength="18.4" lengthAdjust="spacingAndGlyphs" >62.00</text>
<text x="1000" y="479.0" font-size="8" fill="#6f727c" text-anchor="middle" font-weight="normal" textLength="18.4" lengthAdjust="spacingAndGlyphs" >60.50</text>
<text x="1000" y="523.8" font-size="8" fill="#6f727c" text-anchor="middle" font-weight="normal" textLength="18.4" lengthAdjust="spacingAndGlyphs" >60.00</text>
<text x="1000" y="209" font-size="8" fill="#8f929b" text-anchor="middle" font-weight="normal" textLength="18.4" lengthAdjust="spacingAndGlyphs" >63.50</text>
<text x="1000" y="255.8" font-size="8" fill="#6f727c" text-anchor="middle" font-weight="normal" textLength="18.4" lengthAdjust="spacingAndGlyphs" >63.00</text>
<rect x="987.7" y="19.7" width="27.3" height="15.6" rx="2.5" fill="#0b0b0e"/>
<text x="1000.3" y="30.6" font-size="8" fill="#e8e8e8" text-anchor="middle" font-weight="normal" textLength="13" lengthAdjust="spacingAndGlyphs" >USD</text>
<rect x="986" y="40" width="27" height="10.700000000000003" rx="1.5" fill="#9c27b0"/>
<text x="999.5" y="48.35" font-size="8.5" fill="#ffffff" text-anchor="middle" font-weight="normal" textLength="18.5" lengthAdjust="spacingAndGlyphs" stroke="#ffffff" stroke-width="0.35">65.31</text>
<rect x="986" y="182.9" width="27" height="10.5" rx="1.5" fill="#0e9aa7"/>
<text x="999.5" y="191.15" font-size="8.5" fill="#ffffff" text-anchor="middle" font-weight="normal" textLength="18.5" lengthAdjust="spacingAndGlyphs" stroke="#ffffff" stroke-width="0.35">63.72</text>
<rect x="986" y="207.4" width="27" height="10.199999999999989" rx="1.5" fill="#2a2e39"/>
<text x="999.5" y="215.5" font-size="8.5" fill="#ffffff" text-anchor="middle" font-weight="normal" textLength="18.5" lengthAdjust="spacingAndGlyphs" stroke="#ffffff" stroke-width="0.35">63.22</text>
<rect x="986" y="217.6" width="27" height="10.800000000000011" rx="1.5" fill="#f23645"/>
<text x="999.5" y="226.0" font-size="8.5" fill="#ffffff" text-anchor="middle" font-weight="normal" textLength="18.5" lengthAdjust="spacingAndGlyphs" stroke="#ffffff" stroke-width="0.35">63.20</text>
<rect x="986" y="228.4" width="27" height="10.5" rx="1.5" fill="#000000"/>
<text x="999.5" y="236.65" font-size="8.5" fill="#ffffff" text-anchor="middle" font-weight="normal" textLength="18.5" lengthAdjust="spacingAndGlyphs" stroke="#ffffff" stroke-width="0.35">63.12</text>
<rect x="986" y="239.4" width="27" height="9.5" rx="1.5" fill="#ffffff" stroke="#f7a030" stroke-width="1"/>
<text x="999.5" y="247.15" font-size="8.5" fill="#f7a030" text-anchor="middle" font-weight="normal" textLength="18.5" lengthAdjust="spacingAndGlyphs" stroke="#f7a030" stroke-width="0.35">63.09</text>
<rect x="986" y="374.7" width="27" height="19" rx="1.5" fill="#5d606b"/>
<text x="999.5" y="382.8" font-size="8.5" fill="#ffffff" text-anchor="middle" font-weight="normal" textLength="18.5" lengthAdjust="spacingAndGlyphs" stroke="#ffffff" stroke-width="0.35">61.58</text>
<text x="999.5" y="391.6" font-size="8.5" fill="#e0e0e0" text-anchor="middle" font-weight="normal" textLength="18" lengthAdjust="spacingAndGlyphs" >04:24</text>
<rect x="986" y="418" width="27" height="9.5" rx="1.5" fill="#ffffff" stroke="#2ea08c" stroke-width="1"/>
<text x="999.5" y="425.75" font-size="8.5" fill="#1e9a86" text-anchor="middle" font-weight="normal" textLength="18.5" lengthAdjust="spacingAndGlyphs" stroke="#1e9a86" stroke-width="0.35">61.10</text>
<rect x="986" y="427.5" width="27" height="10.800000000000011" rx="1.5" fill="#5d606b"/>
<text x="999.5" y="435.9" font-size="8.5" fill="#ffffff" text-anchor="middle" font-weight="normal" textLength="18.5" lengthAdjust="spacingAndGlyphs" stroke="#ffffff" stroke-width="0.35">61.09</text>
<rect x="986" y="438.3" width="27" height="10.399999999999977" rx="1.5" fill="#787b86"/>
<text x="999.5" y="446.5" font-size="8.5" fill="#ffffff" text-anchor="middle" font-weight="normal" textLength="18.5" lengthAdjust="spacingAndGlyphs" stroke="#ffffff" stroke-width="0.35">61.09</text>
<text x="12" y="555.8" font-size="7.9" fill="#6f727c" text-anchor="middle" font-weight="normal" >:00</text>
<text x="61" y="555.8" font-size="7.9" fill="#6f727c" text-anchor="middle" font-weight="normal" textLength="17.7" lengthAdjust="spacingAndGlyphs" >21:00</text>
<text x="115.5" y="555.8" font-size="7.9" fill="#6f727c" text-anchor="middle" font-weight="normal" >4</text>
<text x="169.5" y="555.8" font-size="7.9" fill="#6f727c" text-anchor="middle" font-weight="normal" textLength="17.7" lengthAdjust="spacingAndGlyphs" >03:00</text>
<text x="224" y="555.8" font-size="7.9" fill="#6f727c" text-anchor="middle" font-weight="normal" textLength="17.7" lengthAdjust="spacingAndGlyphs" >06:00</text>
<text x="278" y="555.8" font-size="7.9" fill="#6f727c" text-anchor="middle" font-weight="normal" textLength="17.7" lengthAdjust="spacingAndGlyphs" >09:00</text>
<text x="332" y="555.8" font-size="7.9" fill="#6f727c" text-anchor="middle" font-weight="normal" textLength="17.7" lengthAdjust="spacingAndGlyphs" >12:00</text>
<text x="386" y="555.8" font-size="7.9" fill="#6f727c" text-anchor="middle" font-weight="normal" textLength="17.7" lengthAdjust="spacingAndGlyphs" >15:00</text>
<text x="422.5" y="555.8" font-size="7.9" fill="#6f727c" text-anchor="middle" font-weight="normal" textLength="17.7" lengthAdjust="spacingAndGlyphs" >18:00</text>
<text x="476" y="555.8" font-size="7.9" fill="#6f727c" text-anchor="middle" font-weight="normal" textLength="17.7" lengthAdjust="spacingAndGlyphs" >21:00</text>
<text x="530.5" y="555.8" font-size="7.9" fill="#6f727c" text-anchor="middle" font-weight="normal" >5</text>
<text x="584.5" y="555.8" font-size="7.9" fill="#6f727c" text-anchor="middle" font-weight="normal" textLength="17.7" lengthAdjust="spacingAndGlyphs" >03:00</text>
<text x="638.5" y="555.8" font-size="7.9" fill="#6f727c" text-anchor="middle" font-weight="normal" textLength="17.7" lengthAdjust="spacingAndGlyphs" >06:00</text>
<text x="692.5" y="555.8" font-size="7.9" fill="#6f727c" text-anchor="middle" font-weight="normal" textLength="17.7" lengthAdjust="spacingAndGlyphs" >09:00</text>
<text x="747" y="555.8" font-size="7.9" fill="#6f727c" text-anchor="middle" font-weight="normal" textLength="17.7" lengthAdjust="spacingAndGlyphs" >12:00</text>
<text x="800.75" y="555.8" font-size="7.9" fill="#6f727c" text-anchor="middle" font-weight="normal" textLength="17.7" lengthAdjust="spacingAndGlyphs" >15:00</text>
<text x="836.75" y="555.8" font-size="7.9" fill="#6f727c" text-anchor="middle" font-weight="normal" >7</text>
<text x="891" y="555.8" font-size="7.9" fill="#6f727c" text-anchor="middle" font-weight="normal" textLength="17.7" lengthAdjust="spacingAndGlyphs" >21:00</text>
<text x="945" y="555.8" font-size="7.9" fill="#6f727c" text-anchor="middle" font-weight="normal" >8</text>
<text x="11" y="28.8" font-size="8.1" fill="#72757e" text-anchor="start" font-weight="normal" textLength="230" lengthAdjust="spacingAndGlyphs" xml:space="preserve" stroke="#72757e" stroke-width="0.12">MCL1! · 15 · NYMEX  O61.62  H61.68  L61.53  C61.58  −0.03 (−0.05%)</text>
<text x="11" y="39.3" font-size="8.1" fill="#72757e" text-anchor="start" font-weight="normal" textLength="93" lengthAdjust="spacingAndGlyphs" stroke="#72757e" stroke-width="0.12">ICT Killzones &amp; Pivots [TFO]</text>
<text x="11" y="49.8" font-size="8.1" fill="#72757e" text-anchor="start" font-weight="normal" textLength="47.5" lengthAdjust="spacingAndGlyphs" stroke="#72757e" stroke-width="0.12">ICT SMT (fadi)</text>
<circle cx="733.3" cy="536.8" r="6.6" fill="#ffffff"/><circle cx="733.3" cy="536.8" r="5.4" fill="#ffffff" stroke="#9c27b0" stroke-width="1.2"/>
<path d="M735.2 532.4 L730.9 537.6 H733.4 L731.6 541.2 L735.9 536 H733.4 Z" fill="#9c27b0"/>
<circle cx="737.9" cy="532.5" r="1.9" fill="#ffffff"/><circle cx="737.9" cy="532.5" r="1.5" fill="#f23645"/>
<path d="M7.3 576 H14.7 V585.8 H11 V580 H7.3 Z" fill="#e6e6e6"/><circle cx="17.9" cy="577.8" r="1.8" fill="#e6e6e6"/><path d="M22.1 576 H26.4 L22.6 585.8 H18.2 Z" fill="#e6e6e6"/>
<text x="30.8" y="585.6" font-size="13" fill="#e6e6e6" text-anchor="start" font-weight="normal" textLength="75.2" lengthAdjust="spacingAndGlyphs" stroke="#e6e6e6" stroke-width="0.45">TradingView</text>
</svg>
</body></html>
